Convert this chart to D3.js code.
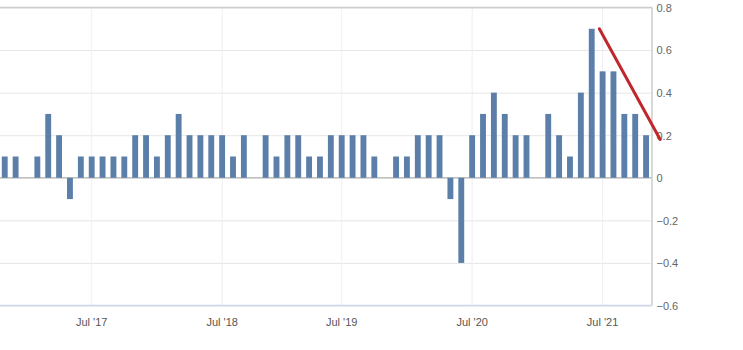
<!DOCTYPE html>
<html>
<head>
<meta charset="utf-8">
<script src="https://cdn.jsdelivr.net/npm/d3@7"></script>
<style>
  html, body { margin: 0; padding: 0; background: #fff; }
  svg { display: block; }
  text { font-family: "Liberation Sans", Arial, sans-serif; }
</style>
</head>
<body>
<svg id="chart" width="743" height="350"></svg>
<script>
// Monthly change, one entry per published month
const categories = [
  "Nov 2016", "Dec 2016",
  "Jan 2017", "Feb 2017", "Mar 2017", "Apr 2017", "May 2017", "Jun 2017",
  "Jul 2017", "Aug 2017", "Sep 2017", "Oct 2017", "Nov 2017", "Dec 2017",
  "Jan 2018", "Feb 2018", "Mar 2018", "Apr 2018", "May 2018", "Jun 2018",
  "Jul 2018", "Aug 2018", "Sep 2018", "Oct 2018", "Nov 2018", "Dec 2018",
  "Jan 2019", "Feb 2019", "Mar 2019", "Apr 2019", "May 2019",
  "Jul 2019", "Aug 2019", "Sep 2019", "Oct 2019", "Nov 2019", "Dec 2019",
  "Jan 2020", "Feb 2020", "Mar 2020", "Apr 2020", "May 2020", "Jun 2020",
  "Jul 2020", "Aug 2020", "Sep 2020", "Oct 2020", "Nov 2020", "Dec 2020",
  "Jan 2021", "Feb 2021", "Mar 2021", "Apr 2021", "May 2021", "Jun 2021",
  "Jul 2021", "Aug 2021", "Sep 2021", "Oct 2021", "Nov 2021"
];

const values = [
  0.1, 0.1,
  0.0, 0.1, 0.3, 0.2, -0.1, 0.1,
  0.1, 0.1, 0.1, 0.1, 0.2, 0.2,
  0.1, 0.2, 0.3, 0.2, 0.2, 0.2,
  0.2, 0.1, 0.2, 0.0, 0.2, 0.1,
  0.2, 0.2, 0.1, 0.1, 0.2,
  0.2, 0.2, 0.2, 0.1, 0.0, 0.1,
  0.1, 0.2, 0.2, 0.2, -0.1, -0.4,
  0.2, 0.3, 0.4, 0.3, 0.2, 0.2,
  0.0, 0.3, 0.2, 0.1, 0.4, 0.7,
  0.5, 0.5, 0.3, 0.3, 0.2
];

// x-axis tick labels and the month each one sits on
const xTickMonths = ["Jul 2017", "Jul 2018", "Jul 2019", "Jul 2020", "Jul 2021"];
const xTickLabels = ["Jul '17", "Jul '18", "Jul '19", "Jul '20", "Jul '21"];

// y-axis ticks
const yTicks = [-0.6, -0.4, -0.2, 0, 0.2, 0.4, 0.6, 0.8];

// Hand-drawn trend stroke: position in months (0 = first month) and value
const trendPos = [54.7, 60.3];
const trendVal = [0.70, 0.18];

const svg = d3.select("#chart");
const plot = { left: -0.7, right: 651.5, top: 7.5, bottom: 305.5 };

const x = d3.scaleBand()
  .domain(categories)
  .range([plot.left, plot.right])
  .paddingInner(0.46)
  .paddingOuter(0.23);

const y = d3.scaleLinear()
  .domain([-0.6, 0.8])
  .range([plot.bottom, plot.top]);

// continuous position along the month axis (centre of band i at i)
const xPos = d3.scaleLinear()
  .domain([0, 1])
  .range([x(categories[0]) + x.bandwidth() / 2, x(categories[1]) + x.bandwidth() / 2]);

// horizontal grid
const yAxis = d3.axisRight(y)
  .tickValues(yTicks)
  .tickSize(-(plot.right - 0))
  .tickFormat(d => d3.format("")(+d.toFixed(1)));

const yG = svg.append("g")
  .attr("transform", `translate(${plot.right},0)`)
  .call(yAxis);
yG.select(".domain").remove();
yG.selectAll(".tick line").attr("stroke", "#e6e6e6").attr("stroke-width", 1);
yG.selectAll(".tick text")
  .attr("x", 5)
  .attr("fill", "#666")
  .attr("font-size", 11)
  .attr("dy", "0.35em");

// vertical grid at the labelled months
const xAxis = d3.axisBottom(x)
  .tickValues(xTickMonths)
  .tickSize(-(plot.bottom - plot.top))
  .tickFormat((d, i) => xTickLabels[i]);

const xG = svg.append("g")
  .attr("transform", `translate(0,${plot.bottom})`)
  .call(xAxis);
xG.select(".domain").remove();
xG.selectAll(".tick line").attr("stroke", "#eeeef4").attr("stroke-width", 1);
xG.selectAll(".tick text")
  .attr("y", 13)
  .attr("fill", "#555")
  .attr("font-size", 11);

// plot frame
svg.append("line")
  .attr("x1", 0).attr("x2", plot.right + 0.5)
  .attr("y1", plot.top).attr("y2", plot.top)
  .attr("stroke", "#cccccc").attr("stroke-width", 1.5);
svg.append("line")
  .attr("x1", plot.right + 0.5).attr("x2", plot.right + 0.5)
  .attr("y1", plot.top).attr("y2", plot.bottom)
  .attr("stroke", "#cccccc").attr("stroke-width", 1.5);
svg.append("line")
  .attr("x1", 0).attr("x2", plot.right + 0.5)
  .attr("y1", plot.bottom).attr("y2", plot.bottom)
  .attr("stroke", "#ccd6eb").attr("stroke-width", 1.5);

// zero line
svg.append("line")
  .attr("x1", 0).attr("x2", plot.right)
  .attr("y1", y(0)).attr("y2", y(0))
  .attr("stroke", "#a8a8a8").attr("stroke-width", 1);

// bars
const data = categories.map((c, i) => ({ c, v: values[i] }));
svg.append("g")
  .selectAll("rect")
  .data(data)
  .join("rect")
  .attr("x", d => x(d.c))
  .attr("width", x.bandwidth())
  .attr("y", d => y(Math.max(0, d.v)))
  .attr("height", d => Math.abs(y(d.v) - y(0)))
  .attr("fill", "#5b7fa9");

// trend stroke
svg.append("line")
  .attr("x1", xPos(trendPos[0])).attr("y1", y(trendVal[0]))
  .attr("x2", xPos(trendPos[1])).attr("y2", y(trendVal[1]))
  .attr("stroke", "#c0272d")
  .attr("stroke-width", 3)
  .attr("stroke-linecap", "round");
</script>
</body>
</html>
